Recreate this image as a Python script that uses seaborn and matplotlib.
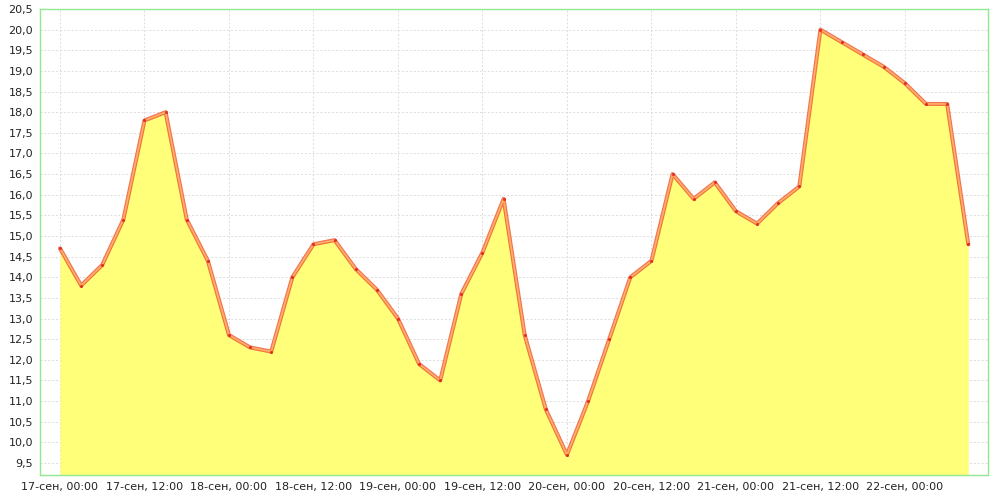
import pandas as pd
import seaborn as sns
import matplotlib.pyplot as plt

# readings every 3 hours, starting 17 Sep 00:00
start = '2023-09-17 00:00'
values = [14.7, 13.8, 14.3, 15.4, 17.8, 18.0, 15.4, 14.4, 12.6, 12.3,
          12.2, 14.0, 14.8, 14.9, 14.2, 13.7, 13.0, 11.9, 11.5, 13.6,
          14.6, 15.9, 12.6, 10.8, 9.7, 11.0, 12.5, 14.0, 14.4, 16.5,
          15.9, 16.3, 15.6, 15.3, 15.8, 16.2, 20.0, 19.7, 19.4, 19.1,
          18.7, 18.2, 18.2, 14.8]
tick_days = ['17', '17', '18', '18', '19', '19', '20', '20', '21', '21', '22']
tick_hours = ['00:00', '12:00'] * 6
y_ticks = [9.5 + 0.5 * i for i in range(23)]

df = pd.DataFrame({'time': pd.date_range(start, periods=len(values), freq='3h'),
                   'value': values})

sns.set_style('white')
plt.rcParams['font.family'] = ['DejaVu Sans']

fig = plt.figure(figsize=(10, 5), dpi=100)
ax = fig.add_axes([0.04, 0.05, 0.948, 0.932])

ymin = 9.21
ax.fill_between(df['time'], df['value'], ymin, color='#ffff7a', lw=0, zorder=1)
sns.lineplot(data=df, x='time', y='value', ax=ax, color='#f05a3c', lw=2.9,
             alpha=0.85, zorder=3)
sns.lineplot(data=df, x='time', y='value', ax=ax, color='#ffb060', lw=1.2,
             zorder=4)
sns.scatterplot(data=df, x='time', y='value', ax=ax, color='#e03020', s=5,
                linewidth=0, zorder=5)

t0 = df['time'].iloc[0]
ax.set_xlim(t0 - pd.Timedelta(hours=2.84), t0 + pd.Timedelta(hours=131.8))
ax.set_ylim(ymin, 20.5)

xt = pd.date_range(start, periods=len(tick_days), freq='12h')
ax.set_xticks(xt)
ax.set_xticklabels([f'{d}-сен, {h}' for d, h in zip(tick_days, tick_hours)],
                   fontsize=8)
ax.set_yticks(y_ticks)
ax.set_yticklabels([f'{v:.1f}'.replace('.', ',') for v in y_ticks], fontsize=8)

ax.grid(True, color='#dcdcdc', ls=(0, (2, 2)), lw=0.7)
ax.set_axisbelow(True)
for s in ax.spines.values():
    s.set_color('#90e890')
    s.set_linewidth(1)
ax.tick_params(axis='both', length=3, color='#888888', labelcolor='#222222', pad=2)
ax.set_xlabel('')
ax.set_ylabel('')

plt.savefig('out.png')
